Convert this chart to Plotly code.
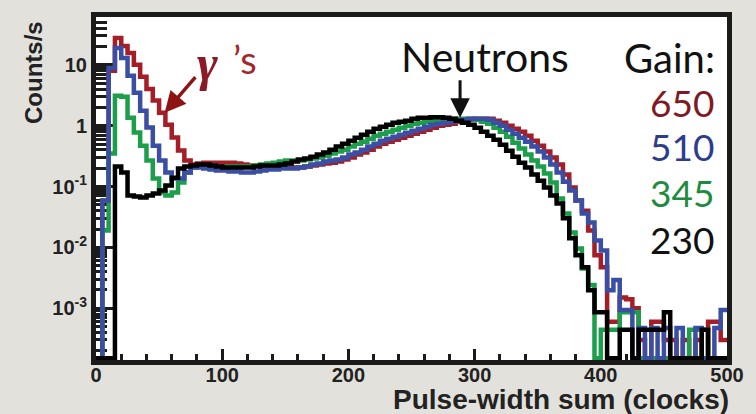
import math
import plotly.graph_objects as go

# ---------------- data ----------------
bin_left = [5 * i for i in range(100)]          # pulse-width sum bins, 5 clocks wide
x_max = 500

counts_650 = [
    0, 0.059, 8.0, 27.7, 20.5, 15.7, 10.0, 6.4, 4.0, 2.6,
    1.63, 1.04, 0.64, 0.39, 0.267, 0.23, 0.238, 0.247, 0.247, 0.247,
    0.247, 0.247, 0.238, 0.23, 0.221, 0.221, 0.213, 0.213, 0.205, 0.205,
    0.205, 0.205, 0.205, 0.213, 0.221, 0.23, 0.238, 0.247, 0.257, 0.277,
    0.299, 0.335, 0.361, 0.404, 0.453, 0.507, 0.547, 0.589, 0.636, 0.685,
    0.739, 0.797, 0.86, 0.927, 1.0, 1.04, 1.08, 1.16, 1.21, 1.25,
    1.30, 1.30, 1.30, 1.21, 1.12, 1.0, 0.893, 0.797, 0.685, 0.568,
    0.47, 0.375, 0.299, 0.23, 0.157, 0.096, 0.059, 0.04, 0.019, 0.0074,
    0.0047, 0.0006, 0.0006, 0.0015, 0.0014, 0.001, 0.0003, 0, 0.0006, 0.0006,
    0.0003, 0.0003, 0, 0.0003, 0, 0.0003, 0, 0.0006, 0.0006, 0.0003,
]
counts_510 = [
    0, 0.059, 8.9, 19.0, 13.0, 6.6, 3.47, 1.76, 0.93, 0.47,
    0.267, 0.17, 0.135, 0.135, 0.17, 0.205, 0.205, 0.197, 0.19, 0.183,
    0.183, 0.176, 0.176, 0.17, 0.17, 0.176, 0.183, 0.19, 0.19, 0.197,
    0.197, 0.197, 0.205, 0.213, 0.23, 0.238, 0.257, 0.267, 0.277, 0.299,
    0.335, 0.361, 0.404, 0.453, 0.507, 0.568, 0.612, 0.66, 0.712, 0.768,
    0.828, 0.893, 0.963, 1.04, 1.08, 1.12, 1.16, 1.21, 1.25, 1.30,
    1.30, 1.30, 1.25, 1.12, 1.0, 0.86, 0.739, 0.636, 0.547, 0.453,
    0.375, 0.299, 0.23, 0.17, 0.12, 0.086, 0.059, 0.036, 0.0257, 0.013,
    0.0089, 0.00197, 0.0029, 0.00093, 0.00093, 0, 0.00047, 0, 0.00047, 0,
    0.00047, 0, 0.00047, 0, 0, 0.00047, 0, 0, 0.00047, 0.00093,
]
counts_345 = [
    0, 0.019, 0.348, 3.1, 2.98, 1.35, 0.77, 0.47, 0.267, 0.135,
    0.08, 0.071, 0.08, 0.116, 0.17, 0.205, 0.221, 0.221, 0.221, 0.213,
    0.213, 0.213, 0.213, 0.213, 0.213, 0.221, 0.23, 0.238, 0.247, 0.257,
    0.267, 0.267, 0.267, 0.277, 0.288, 0.299, 0.322, 0.348, 0.375, 0.404,
    0.453, 0.507, 0.547, 0.612, 0.685, 0.739, 0.797, 0.86, 0.927, 1.0,
    1.08, 1.12, 1.16, 1.21, 1.25, 1.30, 1.30, 1.30, 1.30, 1.30,
    1.25, 1.16, 1.08, 0.927, 0.797, 0.66, 0.526, 0.42, 0.335, 0.267,
    0.213, 0.163, 0.116, 0.0636, 0.036, 0.0176, 0.0096, 0.0045, 0.0024, 0,
    0.00044, 0.00044, 0.00044, 0.00086, 0.00086, 0.00086, 0, 0, 0, 0,
    0, 0, 0, 0, 0.00044, 0.00044, 0.00044, 0, 0, 0,
]
counts_230 = [
    0, 0, 0, 0.213, 0.17, 0.071, 0.0685, 0.066, 0.071, 0.077,
    0.086, 0.104, 0.14, 0.197, 0.213, 0.221, 0.23, 0.23, 0.221, 0.213,
    0.205, 0.205, 0.205, 0.205, 0.205, 0.213, 0.221, 0.221, 0.221, 0.23,
    0.238, 0.257, 0.277, 0.288, 0.31, 0.335, 0.361, 0.404, 0.453, 0.507,
    0.568, 0.636, 0.712, 0.797, 0.893, 0.963, 1.04, 1.12, 1.16, 1.21,
    1.30, 1.35, 1.35, 1.38, 1.38, 1.35, 1.30, 1.21, 1.12, 1.04,
    0.927, 0.797, 0.685, 0.589, 0.488, 0.389, 0.31, 0.247, 0.205, 0.157,
    0.125, 0.096, 0.071, 0.0526, 0.03, 0.0141, 0.0074, 0.0047, 0.00197, 0.00086,
    0.00086, 0, 0, 0.00044, 0.00044, 0, 0.00044, 0.00044, 0.00044, 0.00044,
    0.00086, 0, 0, 0, 0, 0, 0.00044, 0, 0, 0,
]

gains = ["650", "510", "345", "230"]
series = {"650": counts_650, "510": counts_510, "345": counts_345, "230": counts_230}

y_ticks = [1e-3, 1e-2, 1e-1, 1, 10]
y_ticktext = ["10<sup>-3</sup>", "10<sup>-2</sup>", "10<sup>-1</sup>", "1", "10"]
x_ticks = [0, 100, 200, 300, 400, 500]

# ---------------- styling ----------------
line_colors = {"650": "#a51d26", "510": "#3a4ea4", "345": "#1c9e4b", "230": "#000000"}
label_colors = {"650": "#7e1a22", "510": "#2e3c8c", "345": "#1f8b41", "230": "#111111"}
draw_order = ["650", "345", "510", "230"]
log_lo, log_hi = -3.852, 1.787
floor_val = 10 ** (log_lo + 0.03)      # empty bins drawn on the bottom of the frame
frame = "#1b1b1b"
bg = "#e2e1dc"
axis_font = dict(family="Liberation Sans, Arial, sans-serif", size=20, color="#222222", weight="bold")
label_font = "Lato, 'Open Sans', sans-serif"

fig = go.Figure()
for g in draw_order:
    vals = [floor_val if v <= 0 else v for v in series[g]]
    xs = [0] + bin_left + [x_max]
    ys = [floor_val] + vals + [vals[-1]]
    fig.add_trace(go.Scatter(
        x=xs, y=ys, mode="lines", name=g,
        line=dict(color=line_colors[g], width=4.5, shape="hv"),
        hoverinfo="skip", showlegend=False,
    ))

minor_y = [k * 10.0 ** e for e in range(-4, 2) for k in range(2, 10)
           if log_lo < math.log10(k * 10.0 ** e) < log_hi]
minor_x = [v for v in range(20, 500, 20) if v % 100 != 0]

fig.update_layout(
    width=756, height=414,
    margin=dict(l=96, r=17, t=16, b=54),
    paper_bgcolor=bg,
    plot_bgcolor="#ffffff",
    showlegend=False,
    xaxis=dict(
        range=[0, x_max], tickvals=x_ticks, ticks="inside", ticklen=11, tickwidth=3,
        tickcolor=frame, showline=True, linewidth=5, linecolor=frame, mirror=True,
        showgrid=False, zeroline=False, tickfont=axis_font, layer="below traces",
        ticklabelstandoff=-7,
        minor=dict(tickvals=minor_x, ticks="inside", ticklen=6, tickwidth=3, tickcolor=frame, showgrid=False),
    ),
    yaxis=dict(
        type="log", range=[log_lo, log_hi], tickvals=y_ticks, ticktext=y_ticktext,
        ticks="inside", ticklen=17, tickwidth=3, tickcolor=frame,
        showline=True, linewidth=5, linecolor=frame, mirror=True,
        showgrid=False, zeroline=False, tickfont=axis_font, layer="below traces",
        minor=dict(tickvals=minor_y, ticks="inside", ticklen=11, tickwidth=2.5, tickcolor=frame, showgrid=False),
    ),
)

def px_to_paper(px, py):
    return (px - 96) / 643.0, (360 - py) / 344.0

def text_at(text, px, py, font, xanchor="center", **kw):
    xp, yp = px_to_paper(px, py)
    return dict(text=text, x=xp, y=yp, xref="paper", yref="paper", showarrow=False,
                xanchor=xanchor, yanchor="middle", font=font, **kw)

def arrow_at(px, py, ax, ay, color, width, size):
    xp, yp = px_to_paper(px, py)
    return dict(text="", x=xp, y=yp, xref="paper", yref="paper", showarrow=True,
                ax=ax, ay=ay, arrowhead=2, arrowsize=size, arrowwidth=width, arrowcolor=color)

annots = [
    text_at("Counts/s", 33, 72, dict(family="Liberation Sans, Arial", size=24, color="#222222", weight="bold"),
            textangle=-90),
    text_at("Pulse-width sum (clocks)", 743, 400,
            dict(family="Liberation Sans, Arial", size=28, color="#222222", weight="bold"), xanchor="right"),
    text_at("Neutrons", 492, 56, dict(family=label_font, size=41, color="#111111")),
    arrow_at(467, 117, 0, -39, "#111111", 3, 1.3),
    text_at("<b><i>γ</i></b>", 210, 62, dict(family="Liberation Serif, serif", size=50, color="#8b1a26")),
    text_at("’s", 248, 58, dict(family=label_font, size=38, color="#a2262f")),
    arrow_at(166, 112, 32, -37, "#8e1313", 3.5, 1.2),
    text_at("Gain:", 729, 57, dict(family=label_font, size=40, color="#111111"), xanchor="right"),
]
gain_py = {"650": 102, "510": 146, "345": 192, "230": 239}
for g in gains:
    annots.append(text_at(g, 728, gain_py[g], dict(family=label_font, size=37, color=label_colors[g]),
                          xanchor="right"))

fig.update_layout(annotations=annots)
fig.write_html("out.html", config={"displayModeBar": False},
               post_script="document.body.style.margin='0';document.body.style.background='%s';" % bg)
